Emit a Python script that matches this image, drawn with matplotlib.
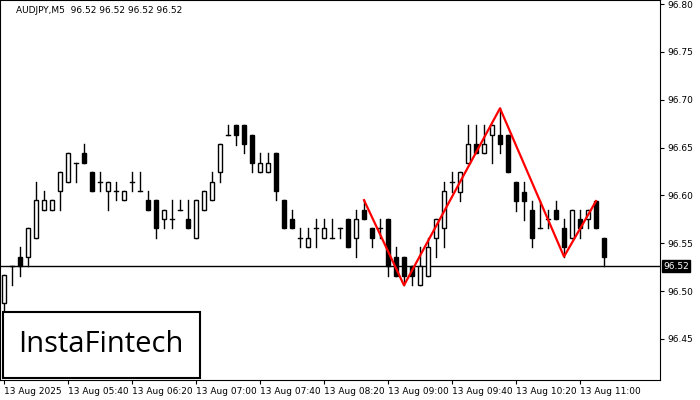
import matplotlib
matplotlib.use("Agg")
import matplotlib.pyplot as plt
from matplotlib.patches import Rectangle

opens = [96.487,96.526,96.536,96.536,96.555,96.585,96.585,96.605,96.614,96.634,
         96.644,96.624,96.614,96.605,96.605,96.595,96.614,96.605,96.595,96.595,
         96.575,96.575,96.585,96.575,96.555,96.585,96.595,96.624,96.663,96.674,
         96.674,96.663,96.624,96.624,96.644,96.595,96.575,96.555,96.546,96.566,
         96.555,96.555,96.566,96.575,96.555,96.585,96.566,96.566,96.575,96.536,
         96.536,96.526,96.506,96.516,96.555,96.566,96.614,96.603,96.634,96.654,
         96.644,96.663,96.663,96.663,96.614,96.603,96.585,96.566,96.575,96.585,
         96.566,96.555,96.575,96.575,96.594,96.555]
highs = [96.517,96.526,96.546,96.566,96.614,96.605,96.595,96.624,96.644,96.634,
         96.654,96.624,96.624,96.614,96.614,96.605,96.624,96.624,96.605,96.595,
         96.585,96.595,96.595,96.595,96.595,96.605,96.624,96.654,96.674,96.674,
         96.674,96.663,96.644,96.644,96.644,96.595,96.585,96.566,96.566,96.575,
         96.575,96.575,96.566,96.575,96.585,96.595,96.566,96.575,96.575,96.546,
         96.536,96.526,96.546,96.555,96.575,96.614,96.624,96.624,96.674,96.674,
         96.674,96.674,96.691,96.663,96.614,96.614,96.594,96.594,96.585,96.594,
         96.575,96.585,96.585,96.585,96.594,96.555]
lows = [96.467,96.506,96.516,96.526,96.555,96.585,96.585,96.585,96.614,96.614,
        96.634,96.605,96.605,96.585,96.595,96.595,96.605,96.605,96.585,96.555,
        96.566,96.566,96.585,96.566,96.555,96.585,96.595,96.614,96.663,96.653,
        96.644,96.624,96.624,96.624,96.595,96.566,96.566,96.546,96.546,96.546,
        96.555,96.555,96.555,96.546,96.536,96.575,96.546,96.555,96.516,96.516,
        96.506,96.506,96.506,96.516,96.536,96.546,96.603,96.594,96.634,96.644,
        96.644,96.634,96.644,96.624,96.584,96.574,96.546,96.566,96.566,96.575,
        96.536,96.555,96.555,96.566,96.566,96.526]
closes = [96.517,96.526,96.526,96.566,96.595,96.595,96.595,96.624,96.644,96.634,
          96.634,96.605,96.614,96.614,96.605,96.605,96.614,96.605,96.585,96.566,
          96.585,96.575,96.585,96.566,96.595,96.605,96.614,96.654,96.663,96.663,
          96.654,96.634,96.634,96.634,96.605,96.566,96.566,96.555,96.555,96.566,
          96.566,96.555,96.566,96.546,96.575,96.575,96.555,96.566,96.526,96.516,
          96.516,96.516,96.526,96.546,96.575,96.605,96.614,96.624,96.654,96.644,
          96.654,96.674,96.654,96.624,96.594,96.594,96.555,96.566,96.575,96.575,
          96.546,96.585,96.566,96.585,96.566,96.536]
pattern_idx = [45, 50, 62, 70, 74]
pattern_px = [96.595, 96.506, 96.691, 96.536, 96.594]
last_price = 96.526
price_ticks = [96.45, 96.50, 96.55, 96.60, 96.65, 96.70, 96.75, 96.80]
time_tick_idx = [0, 8, 16, 24, 32, 40, 48, 56, 64, 72]
time_labels = ["13 Aug 2025", "13 Aug 05:40", "13 Aug 06:20", "13 Aug 07:00",
               "13 Aug 07:40", "13 Aug 08:20", "13 Aug 09:00", "13 Aug 09:40",
               "13 Aug 10:20", "13 Aug 11:00"]

fig = plt.figure(figsize=(7, 4), dpi=100)
ax = fig.add_axes([0.0, 0.05, 660/700, 0.95])
ax.set_xlim(-0.5, 82)
ax.set_ylim(96.407, 96.8042)

w = 0.6
for i, (o, h, l, c) in enumerate(zip(opens, highs, lows, closes)):
    ax.plot([i, i], [l, h], color="black", lw=1, zorder=2)
    bot, top = min(o, c), max(o, c)
    if top - bot < 0.0015:
        ax.plot([i - w/2, i + w/2], [o, o], color="black", lw=1, zorder=3)
    else:
        ax.add_patch(Rectangle((i - w/2, bot), w, top - bot,
                               facecolor="white" if c > o else "black",
                               edgecolor="black", lw=1, zorder=3))

ax.plot(pattern_idx, pattern_px, color="#ff0000", lw=1.6, zorder=4)
ax.axhline(last_price, color="black", lw=1, zorder=1)

ax.yaxis.tick_right()
ax.set_yticks(price_ticks)
ax.set_yticklabels([f"{p:.2f}" for p in price_ticks], fontsize=6.5)
ax.set_xticks(time_tick_idx)
ax.set_xticklabels(time_labels, fontsize=6.5, ha="left")
ax.tick_params(length=3, pad=2)
ax.text(1.005, last_price, "96.52", transform=ax.get_yaxis_transform(),
        fontsize=6.5, color="white", va="center", ha="left",
        bbox=dict(boxstyle="square,pad=0.15", fc="black", ec="black"))
ax.text(0.025, 0.985, "AUDJPY,M5  96.52 96.52 96.52 96.52", transform=ax.transAxes,
        fontsize=6.5, va="top", ha="left")

fig.patches.append(Rectangle((3/700, 22/400), 197/700, 66/400, transform=fig.transFigure,
                             facecolor="white", edgecolor="black", lw=1.5, zorder=10))
fig.text(101/700, 55/400, "InstaFintech", fontsize=21, ha="center", va="center",
         family="Open Sans", weight="medium", zorder=11)

fig.savefig("out.png", dpi=100)
